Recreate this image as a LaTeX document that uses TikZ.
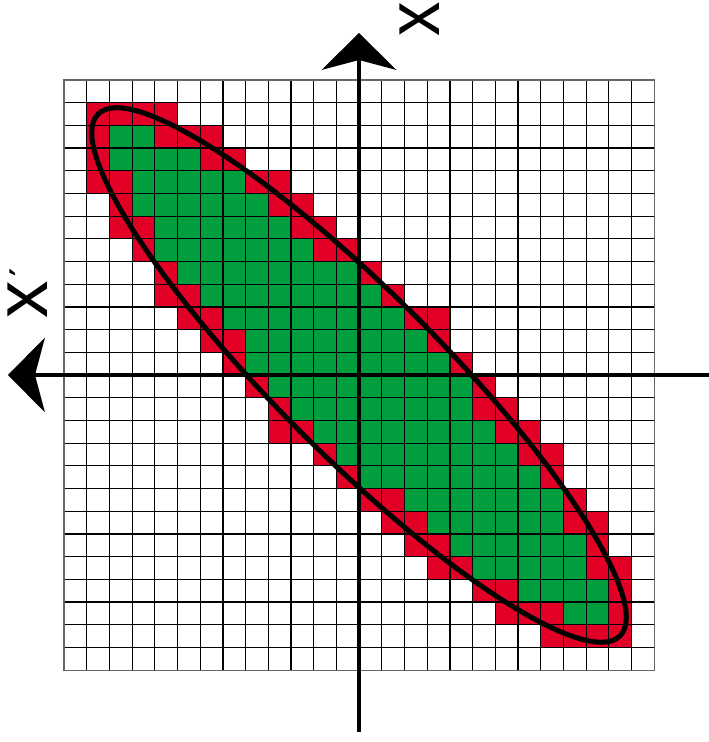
\documentclass[tikz,border=0pt]{standalone}
\usepackage{fontspec}
\setmainfont{Liberation Sans}
\newfontfamily\primefont{DejaVu Sans}
\usetikzlibrary{arrows.meta}
\definecolor{cellred}{RGB}{226,0,38}
\definecolor{cellgreen}{RGB}{0,158,61}
\begin{document}
\begin{tikzpicture}[x=1pt,y=1pt,
  gridline/.style={line width=1.2pt, black},
  gridborder/.style={line width=1.2pt, black!60},
  axisline/.style={line width=4.6pt, black,
    -{Stealth[length=37pt 0 0, width=75pt 0 0, inset=10pt 0 0, line width=0pt]}},
  ellipseline/.style={line width=5pt, black},
  axislabel/.style={inner sep=0pt, font=\fontsize{75}{75}\selectfont}]
\useasboundingbox (0,0) rectangle (709,742);
% cells and grid
\begin{scope}[shift={(64pt,662pt)}, x=22.7pt, y=-22.7pt]
  \foreach \r/\a/\b/\c/\d in {
     1/1/3/2/4,   2/1/2/3/6,   3/1/2/5/7,   4/1/3/7/9,
     5/2/3/8/10,  6/2/4/9/11,  7/3/4/10/12, 8/4/5/12/13,
     9/4/6/13/14, 10/5/7/14/16, 11/6/8/15/16, 12/7/8/16/17,
     13/8/9/17/18, 14/9/10/17/19, 15/9/11/18/20, 16/11/12/19/21,
     17/12/13/20/21, 18/13/15/21/22, 19/14/16/21/23, 20/15/17/22/23,
     21/16/18/22/24, 22/18/20/23/24, 23/19/22/23/24, 24/21/25/24/24}{
    \fill[cellred] (\a,\r) rectangle ({\d+1},{\r+1});
    \fill[cellgreen] (\b,\r) rectangle ({\c+1},{\r+1});
  }
  \foreach \i in {1,...,25}{
    \draw[gridline] (\i,0) -- (\i,26);
    \draw[gridline] (0,\i) -- (26,\i);
  }
  \draw[gridborder] (0,0) rectangle (26,26);
\end{scope}
% ellipse
\coordinate (O) at (359,367);
\draw[ellipseline, rotate around={-45:(O)}] (O) ellipse [x radius=369, y radius=81.5];
% axes
\coordinate (vbot) at (359,10);
\coordinate (vtop) at (359,709);
\coordinate (hright) at (709,367);
\coordinate (hleft) at (8,367);
\draw[axisline] (vbot) -- (vtop);
\draw[axisline] (hright) -- (hleft);
% labels
\node[axislabel, rotate=90, xscale=0.92] (xlab) at (419.5,722.5) {x};
\node[axislabel, rotate=90, anchor=base west] (xplab) at (47,423)
  {x\kern5pt\raisebox{15pt}{\primefont\bfseries\fontsize{31}{31}\selectfont ′}};
\end{tikzpicture}
\end{document}
